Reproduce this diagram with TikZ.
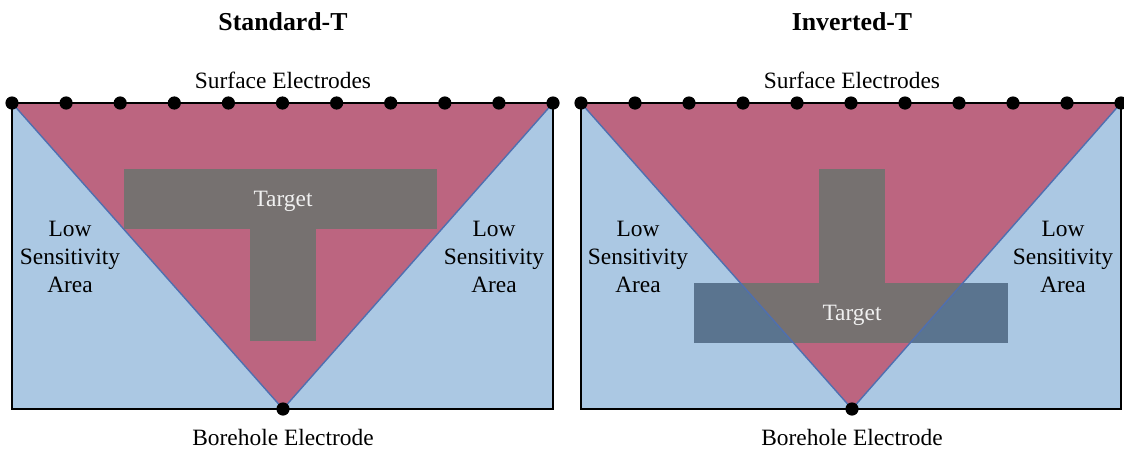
\documentclass[tikz,border=0pt]{standalone}
\usepackage{fontspec}
\setmainfont{Liberation Serif}
\usepackage{xcolor}
\usepackage{tikz}
\usetikzlibrary{positioning}
\definecolor{lowblue}{RGB}{171,200,227}
\definecolor{sensred}{RGB}{188,101,128}
\definecolor{targetgray}{RGB}{118,113,112}
\definecolor{targetsteel}{RGB}{90,116,143}
\definecolor{edgeblue}{RGB}{79,111,176}

\begin{document}
\begin{tikzpicture}[x=0.5pt, y=-0.5pt,
  electrode/.style={circle, fill=black, inner sep=0pt, minimum size=6.6pt},
  label/.style={font=\fontsize{11.7}{14.2}\selectfont, align=center},
  title/.style={font=\fontsize{12.9}{15}\selectfont\bfseries},
  target/.style={font=\fontsize{11.7}{14}\selectfont, text=white!94!black},
  edge/.style={draw=edgeblue, line width=0.7pt},
  frame/.style={draw=black, line width=0.75pt},
  surface/.style={draw=black, line width=1.4pt}]

\useasboundingbox (0,0) rectangle (1124,450);

% Standard-T
\coordinate (tla) at (12,103);
\coordinate (tra) at (553,103);
\coordinate (bha) at (283,409);
\fill[lowblue] (12,103) rectangle (553,409);
\fill[sensred] (tla) -- (tra) -- (bha) -- cycle;
\draw[edge] (tla) -- (bha) -- (tra);
\fill[targetgray] (124,169) rectangle (437,229);
\fill[targetgray] (250,229) rectangle (316,341);
\draw[frame] (12,103) rectangle (553,409);
\draw[surface] (tla) -- (tra);
\foreach \i in {0,...,10}
  \node[electrode] (sa\i) at ({12+54.1*\i},103) {};
\node[electrode] (ba) at (bha) {};

\node[title] (titlea) at (283,22) {Standard-T};
\node[label] (surfa) at (283,80) {Surface Electrodes};
\node[label] (borea) at (283,437) {Borehole Electrode};
\node[label] (lowla) at (70,257) {Low\\Sensitivity\\Area};
\node[label] (lowra) at (494,257) {Low\\Sensitivity\\Area};
\node[target] (targa) at (283,201) {Target};

% Inverted-T
\coordinate (tlb) at (581,103);
\coordinate (trb) at (1121,103);
\coordinate (bhb) at (852,409);
\fill[lowblue] (581,103) rectangle (1121,409);
\fill[sensred] (tlb) -- (trb) -- (bhb) -- cycle;
\fill[targetsteel] (694,283) rectangle (1008,343);
\begin{scope}
  \clip (tlb) -- (trb) -- (bhb) -- cycle;
  \fill[targetgray] (694,283) rectangle (1008,343);
\end{scope}
\fill[targetgray] (819,169) rectangle (885,283);
\draw[edge] (tlb) -- (bhb) -- (trb);
\draw[frame] (581,103) rectangle (1121,409);
\draw[surface] (tlb) -- (trb);
\foreach \i in {0,...,10}
  \node[electrode] (sb\i) at ({581+54*\i},103) {};
\node[electrode] (bb) at (bhb) {};

\node[title] (titleb) at (852,22) {Inverted-T};
\node[label] (surfb) at (852,80) {Surface Electrodes};
\node[label] (boreb) at (852,437) {Borehole Electrode};
\node[label] (lowlb) at (638,257) {Low\\Sensitivity\\Area};
\node[label] (lowrb) at (1063,257) {Low\\Sensitivity\\Area};
\node[target] (targb) at (852,315) {Target};

\end{tikzpicture}
\end{document}
